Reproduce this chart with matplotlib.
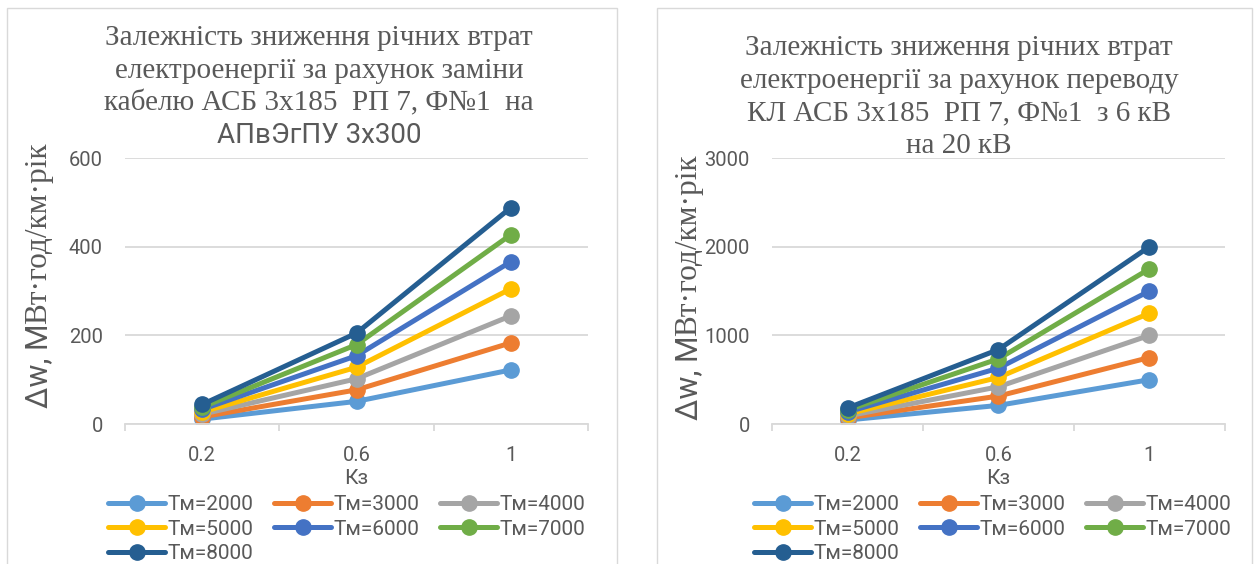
import numpy as np
import matplotlib.pyplot as plt
from matplotlib.patches import Rectangle

# дані
kz_labels = ['0.2', '0.6', '1']
tm_labels = ['Тм=2000', 'Тм=3000', 'Тм=4000', 'Тм=5000', 'Тм=6000', 'Тм=7000', 'Тм=8000']
colors = ['#5B9BD5', '#ED7D31', '#A5A5A5', '#FFC000', '#4472C4', '#70AD47', '#255E91']

# заміна кабелю, МВт·год/км·рік
dw_cable = [
    [11, 51, 122],
    [16, 77, 183],
    [22, 102, 244],
    [27, 128, 305],
    [33, 154, 366],
    [38, 179, 427],
    [44, 205, 488],
]
# перевід з 6 кВ на 20 кВ
dw_volt = [
    [45, 210, 500],
    [68, 315, 750],
    [90, 420, 1000],
    [113, 525, 1250],
    [135, 630, 1500],
    [158, 735, 1750],
    [180, 840, 2000],
]

W, H = 1258, 564
grey = '#595959'
sans = ['Roboto', 'DejaVu Sans']
serif = ['Liberation Serif', 'DejaVu Serif']

fig = plt.figure(figsize=(W / 100, H / 100), dpi=100)


def fx(px):
    return px / W


def fy(py):
    return 1 - py / H


def panel(x0, x1, ax_x0, ax_x1, data, ymax, ystep, title_lines, title_cx, title_dy,
          ylab_x, ylab_y, leg_x):
    fig.add_artist(Rectangle((fx(x0), fy(H + 5)), fx(x1 - x0), fy(8) - fy(H + 5),
                             transform=fig.transFigure, fill=False, edgecolor='#D9D9D9', lw=1))
    ax = fig.add_axes([fx(ax_x0), fy(424), fx(ax_x1 - ax_x0), (424 - 158) / H])
    x = np.arange(len(kz_labels))
    for vals, lab, c in zip(data, tm_labels, colors):
        ax.plot(x, vals, color=c, lw=3.6, marker='o', markersize=11, label=lab,
                solid_capstyle='round')
    ax.set_xlim(-0.5, len(kz_labels) - 0.5)
    ax.set_ylim(0, ymax)
    ax.set_yticks(np.arange(0, ymax + 1, ystep))
    ax.set_xticks(x)
    ax.set_xticklabels(kz_labels)
    ax.set_xticks(np.arange(-0.5, len(kz_labels)), minor=True)
    ax.tick_params(axis='x', which='major', length=0, pad=16, labelsize=14.5, labelcolor=grey)
    ax.tick_params(axis='x', which='minor', length=5, width=1.3, color='#D9D9D9')
    ax.tick_params(axis='y', length=0, pad=16, labelsize=14.5, labelcolor=grey)
    for lab in ax.get_xticklabels() + ax.get_yticklabels():
        lab.set_family(sans)
    ax.grid(axis='y', color='#D9D9D9', lw=1.3)
    ax.set_axisbelow(True)
    for s in ['top', 'right', 'left']:
        ax.spines[s].set_visible(False)
    ax.spines['bottom'].set_color('#D9D9D9')
    ax.spines['bottom'].set_linewidth(1.3)

    # заголовок
    ys = [45, 78, 110, 143]
    for (txt, fam), yb in zip(title_lines, ys):
        fig.text(fx(title_cx), fy(yb + title_dy), txt, family=fam,
                 fontsize=21 if fam is serif else 20, color=grey, ha='center', va='baseline')

    # підпис осі Y: частина sans, частина serif
    t1 = fig.text(fx(ylab_x), fy(ylab_y), 'Δw, М', family=sans, fontsize=22,
                  color=grey, rotation=90, ha='right', va='bottom')
    ax.annotate('Вт·год/км·рік', xy=(1, 1), xycoords=t1, family=serif, fontsize=22.5,
                color=grey, rotation=90, ha='right', va='bottom', annotation_clip=False)

    fig.text(fx((ax_x0 + ax_x1) / 2), fy(484), 'Кз', family=sans, fontsize=15,
             color=grey, ha='center', va='baseline')

    # легенда заповнюється по рядках, як в Excel
    h, l = ax.get_legend_handles_labels()
    order = [0, 3, 6, 1, 4, 2, 5]
    fig.legend([h[i] for i in order], [l[i] for i in order], loc='upper left',
               bbox_to_anchor=(fx(leg_x), fy(495)), ncol=3, frameon=False,
               prop={'family': sans, 'size': 15}, labelcolor=grey,
               handlelength=2.75, handletextpad=0.1, columnspacing=1.0,
               labelspacing=0.27, borderpad=0, borderaxespad=0)
    return ax


panel(7, 617, 125, 588, dw_cable, 600, 200,
      [('Залежність зниження річних втрат', serif),
       ('електроенергії за рахунок заміни', serif),
       ('кабелю АСБ 3х185  РП 7, Ф№1  на', serif),
       ('АПвЭгПУ 3х300', sans)],
      319, 0, 53, 408, 108)

panel(657, 1252, 772, 1225, dw_volt, 3000, 1000,
      [('Залежність зниження річних втрат', serif),
       ('електроенергії за рахунок переводу', serif),
       ('КЛ АСБ 3х185  РП 7, Ф№1  з 6 кВ', serif),
       ('на 20 кВ', serif)],
      959, 10, 703, 420, 754)

fig.savefig('out.png', dpi=100)
